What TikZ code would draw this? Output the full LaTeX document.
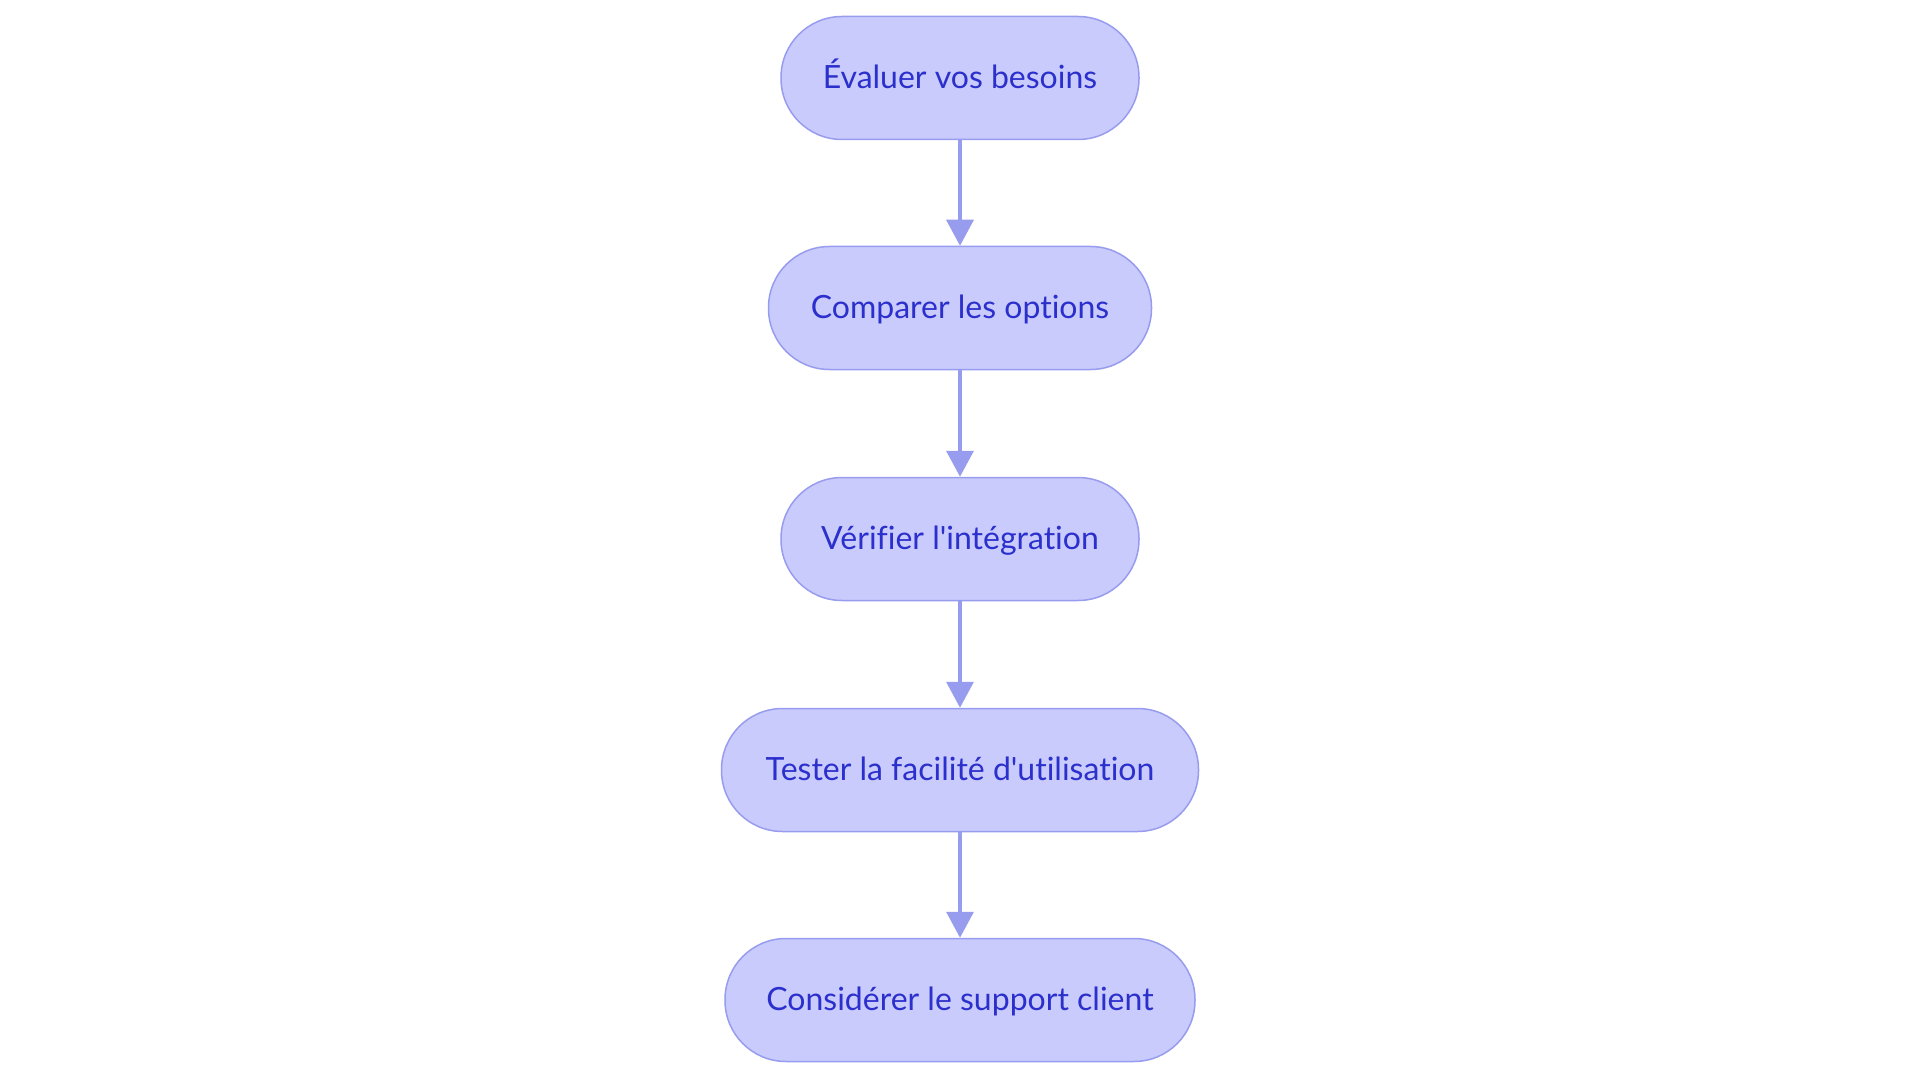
\documentclass[tikz,border=0pt]{standalone}
\usepackage{fontspec}
\newfontfamily\diagfont{Lato}[Ligatures={NoCommon}]
\usetikzlibrary{arrows.meta}
\definecolor{nodefill}{HTML}{C9CBFC}
\definecolor{nodedraw}{HTML}{989CEE}
\definecolor{nodetext}{HTML}{2B2FCC}
\begin{document}
\begin{tikzpicture}[x=1pt,y=-1pt,
  stepbox/.style={draw=nodedraw, line width=1.5pt, fill=nodefill, text=nodetext,
    rounded corners=61pt, minimum height=123pt, inner sep=0pt,
    text height=26pt, text depth=5.5pt,
    font=\diagfont\fontsize{32}{36}\selectfont},
  flow/.style={draw=nodedraw, line width=3.5pt, -{Triangle[length=26pt,width=27pt]}}]
\useasboundingbox[fill=white] (0,0) rectangle (1920,1083);
\node[stepbox, minimum width=358pt] (a) at (960,78) {Évaluer vos besoins};
\node[stepbox, minimum width=383pt] (b) at (960,308) {Comparer les options};
\node[stepbox, minimum width=358pt] (c) at (960,539) {Vérifier l'intégration};
\node[stepbox, minimum width=477pt] (d) at (960,770) {Tester la facilité d'utilisation};
\node[stepbox, minimum width=470pt] (e) at (960,1000) {Considérer le support client};
\draw[flow] (a) -- (b);
\draw[flow] (b) -- (c);
\draw[flow] (c) -- (d);
\draw[flow] (d) -- (e);
\end{tikzpicture}
\end{document}
